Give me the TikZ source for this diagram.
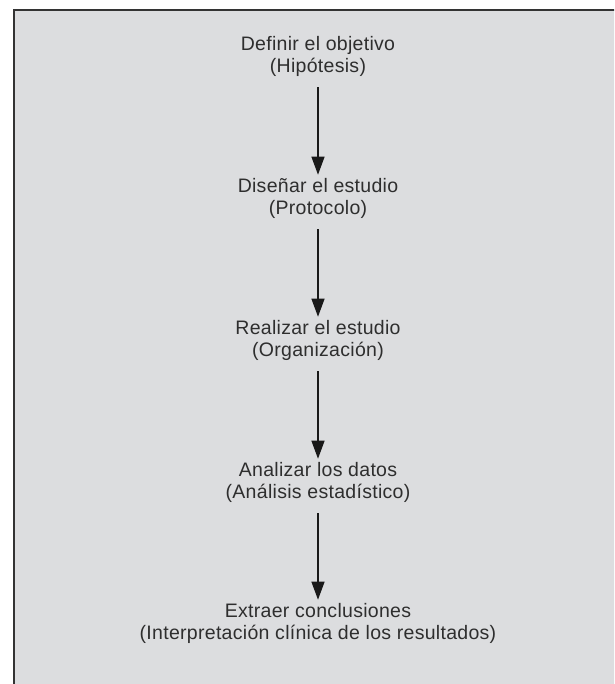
\documentclass[tikz,border=0pt]{standalone}
\usepackage{fontspec}
\setmainfont{Liberation Sans}[LetterSpace=1.5]
\usetikzlibrary{arrows.meta}
\definecolor{boxgray}{HTML}{DCDDDF}
\definecolor{txt}{HTML}{2E2E2E}
\tikzset{
  stepnode/.style={align=center, inner sep=0pt, text=txt,
    font=\fontsize{19.5}{22}\selectfont},
  flowarrow/.style={line width=1.2pt, draw=black!90,
    -{Triangle[length=18pt,width=13pt]}, shorten <=11pt, shorten >=3pt}
}
\begin{document}
\begin{tikzpicture}[x=1pt,y=-1pt]
\useasboundingbox (0,0) rectangle (614,684);
\clip (0,0) rectangle (614,684);
\fill[boxgray] (13.5,10) rectangle (620,690);
\draw[line width=2pt, draw=black!80] (13.5,690) -- (13.5,10) -- (620,10);
\node[stepnode] (s1) at (318,56) {Definir el objetivo\\(Hipótesis)};
\node[stepnode] (s2) at (318,198) {Diseñar el estudio\\(Protocolo)};
\node[stepnode] (s3) at (318,340) {Realizar el estudio\\(Organización)};
\node[stepnode] (s4) at (318,482) {Analizar los datos\\(Análisis estadístico)};
\node[stepnode] (s5) at (318,623) {Extraer conclusiones\\(Interpretación clínica de los resultados)};
\draw[flowarrow] (s1.south) -- (s2.north);
\draw[flowarrow] (s2.south) -- (s3.north);
\draw[flowarrow] (s3.south) -- (s4.north);
\draw[flowarrow] (s4.south) -- (s5.north);
\end{tikzpicture}
\end{document}
